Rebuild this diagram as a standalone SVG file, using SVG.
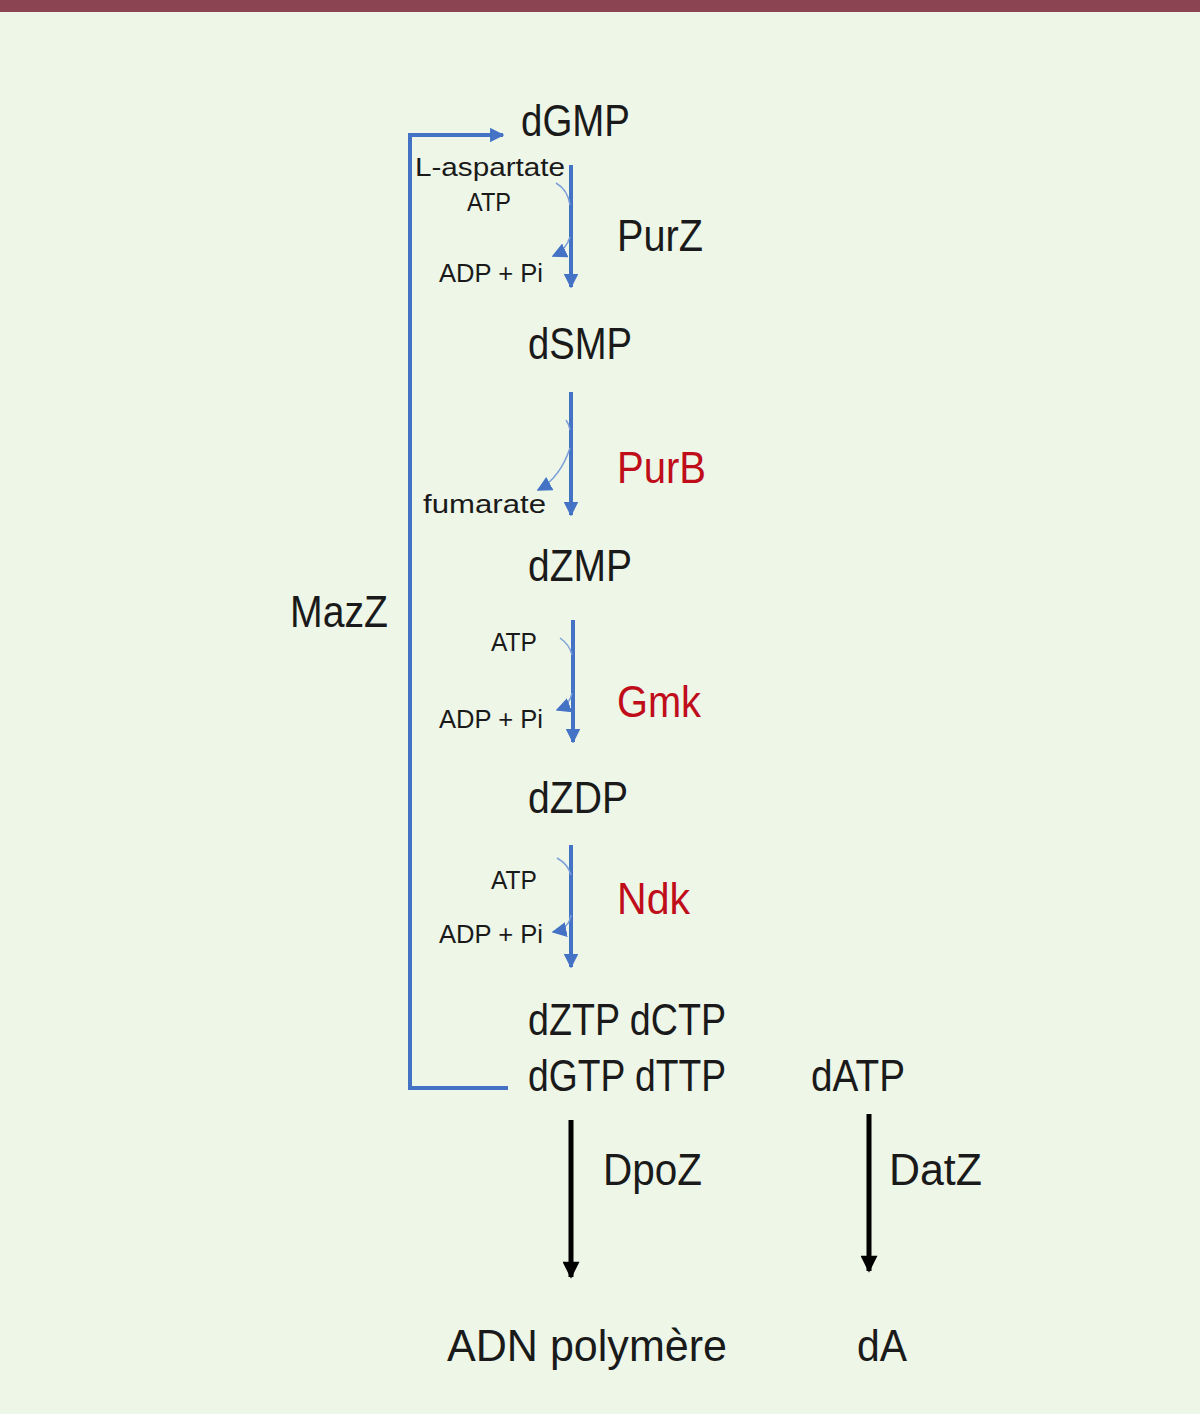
<svg xmlns="http://www.w3.org/2000/svg" width="1200" height="1414" viewBox="0 0 1200 1414">
<defs>
<style>
text{font-family:"Liberation Sans","DejaVu Sans",sans-serif;fill:#1a1a1a}
.big{font-size:44px}
.small{font-size:26px}
.red{fill:#c00d1a}
.main{stroke:#4472c4;stroke-width:4;fill:none}
.thin{stroke:#7b9fd8;stroke-width:1.5;fill:none}
.blk{stroke:#000;stroke-width:5;fill:none}
</style>
<marker id="ab" viewBox="0 0 10 10" refX="9" refY="5" markerWidth="3.6" markerHeight="3.6" orient="auto" markerUnits="strokeWidth"><path d="M0,0 L10,5 L0,10 z" fill="#4472c4"/></marker>
<marker id="as" viewBox="0 0 10 10" refX="9" refY="5" markerWidth="10" markerHeight="10" orient="auto" markerUnits="strokeWidth"><path d="M0,0 L10,5 L0,10 z" fill="#4472c4"/></marker>
<marker id="ak" viewBox="0 0 10 10" refX="9" refY="5" markerWidth="3.6" markerHeight="3.4" orient="auto" markerUnits="strokeWidth"><path d="M0,0 L10,5 L0,10 z" fill="#000"/></marker>
</defs>
<rect x="0" y="0" width="1200" height="1414" fill="#eef6e8"/>
<rect x="0" y="0" width="1200" height="12" fill="#8b4552"/>

<g id="connectors">
<path id="mazz-loop" class="main" d="M508,1088 H410 V135 H503" marker-end="url(#ab)"/>
<path id="purz" class="main" d="M571,165 V287" marker-end="url(#ab)"/>
<path class="thin" d="M556,183 Q568,190 570,205"/>
<path class="thin" d="M570,237 Q566,250 553,256" marker-end="url(#as)"/>
<path id="purb" class="main" d="M571,392 V515" marker-end="url(#ab)"/>
<path class="thin" d="M566,420 Q569,424 570,430"/>
<path class="thin" d="M570,448 Q560,478 538,490" marker-end="url(#as)"/>
<path id="gmk" class="main" d="M573,620 V742" marker-end="url(#ab)"/>
<path class="thin" d="M560,638 Q570,645 572,655"/>
<path class="thin" d="M572,693 Q570,705 557,710" marker-end="url(#as)"/>
<path id="ndk" class="main" d="M571,845 V967" marker-end="url(#ab)"/>
<path class="thin" d="M557,858 Q568,864 571,875"/>
<path class="thin" d="M571,915 Q569,929 553,932" marker-end="url(#as)"/>
<path id="dpoz" class="blk" d="M571,1120 V1277" marker-end="url(#ak)"/>
<path id="datz" class="blk" d="M869,1114 V1271" marker-end="url(#ak)"/>
</g>

<g id="dGMP"><text class="big" x="521" y="136" textLength="109" lengthAdjust="spacingAndGlyphs">dGMP</text></g>
<g id="purz-cofactors">
<text class="small" x="415" y="176" textLength="150" lengthAdjust="spacingAndGlyphs">L-aspartate</text>
<text class="small" x="467" y="211" textLength="44" lengthAdjust="spacingAndGlyphs">ATP</text>
<text class="small" x="439" y="282" textLength="104" lengthAdjust="spacingAndGlyphs">ADP + Pi</text>
</g>
<g id="PurZ"><text class="big" x="617" y="251" textLength="86" lengthAdjust="spacingAndGlyphs">PurZ</text></g>
<g id="dSMP"><text class="big" x="528" y="359" textLength="104" lengthAdjust="spacingAndGlyphs">dSMP</text></g>
<g id="PurB"><text class="big red" x="617" y="483" textLength="89" lengthAdjust="spacingAndGlyphs">PurB</text></g>
<g id="purb-cofactors"><text class="small" x="423" y="513" textLength="123" lengthAdjust="spacingAndGlyphs">fumarate</text></g>
<g id="dZMP"><text class="big" x="528" y="581" textLength="104" lengthAdjust="spacingAndGlyphs">dZMP</text></g>
<g id="MazZ"><text class="big" x="290" y="627" textLength="98" lengthAdjust="spacingAndGlyphs">MazZ</text></g>
<g id="gmk-cofactors">
<text class="small" x="491" y="651" textLength="46" lengthAdjust="spacingAndGlyphs">ATP</text>
<text class="small" x="439" y="728" textLength="104" lengthAdjust="spacingAndGlyphs">ADP + Pi</text>
</g>
<g id="Gmk"><text class="big red" x="617" y="717" textLength="84" lengthAdjust="spacingAndGlyphs">Gmk</text></g>
<g id="dZDP"><text class="big" x="528" y="813" textLength="100" lengthAdjust="spacingAndGlyphs">dZDP</text></g>
<g id="ndk-cofactors">
<text class="small" x="491" y="889" textLength="46" lengthAdjust="spacingAndGlyphs">ATP</text>
<text class="small" x="439" y="943" textLength="104" lengthAdjust="spacingAndGlyphs">ADP + Pi</text>
</g>
<g id="Ndk"><text class="big red" x="617" y="914" textLength="73" lengthAdjust="spacingAndGlyphs">Ndk</text></g>
<g id="dNTPs">
<text class="big" x="528" y="1035" textLength="198" lengthAdjust="spacingAndGlyphs">dZTP dCTP</text>
<text class="big" x="528" y="1091" textLength="198" lengthAdjust="spacingAndGlyphs">dGTP dTTP</text>
</g>
<g id="dATP"><text class="big" x="811" y="1091" textLength="94" lengthAdjust="spacingAndGlyphs">dATP</text></g>
<g id="DpoZ"><text class="big" x="603" y="1185" textLength="99" lengthAdjust="spacingAndGlyphs">DpoZ</text></g>
<g id="DatZ"><text class="big" x="889" y="1185" textLength="93" lengthAdjust="spacingAndGlyphs">DatZ</text></g>
<g id="ADN"><text class="big" x="447" y="1361" textLength="280" lengthAdjust="spacingAndGlyphs">ADN polymère</text></g>
<g id="dA"><text class="big" x="857" y="1361" textLength="50" lengthAdjust="spacingAndGlyphs">dA</text></g>
</svg>
